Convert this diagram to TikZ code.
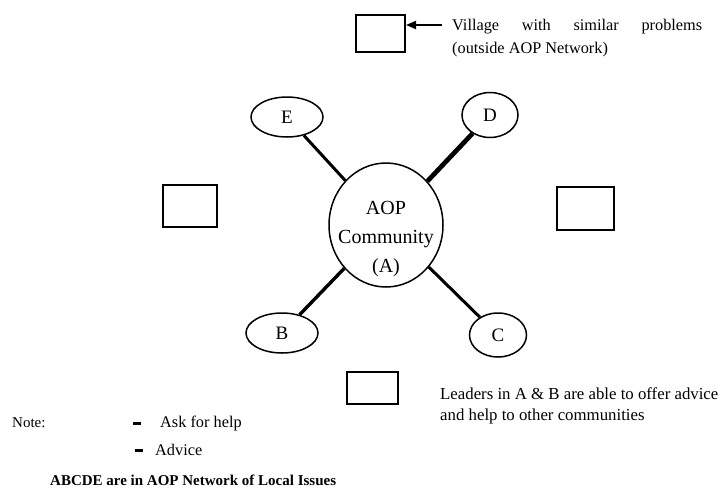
\documentclass[tikz,border=0pt]{standalone}
\usepackage{fontspec}
\setmainfont{Liberation Serif}
\usetikzlibrary{shapes.geometric,arrows.meta}
\tikzset{
  vbox/.style={draw, line width=2pt, rectangle, inner sep=0pt},
  comm/.style={draw, line width=1.5pt, ellipse, inner sep=0pt, font=\fontsize{19}{22}\selectfont},
  link/.style={line width=#1},
  txt/.style={inner sep=0pt, font=\fontsize{16.3}{20}\selectfont},
}
\begin{document}
\begin{tikzpicture}[x=1pt,y=-1pt]
\useasboundingbox[fill=white] (0,0) rectangle (723,496);
% boxes
\node[vbox, minimum width=49pt, minimum height=37pt] (top) at (380.5,33.5) {};
\node[vbox, minimum width=54pt, minimum height=42pt] (left) at (190,206) {};
\node[vbox, minimum width=57pt, minimum height=43pt] (right) at (585.5,208.5) {};
\node[vbox, minimum width=51pt, minimum height=32pt] (bottom) at (372.5,388) {};
% communities
\node[comm, minimum width=114pt, minimum height=124pt] (A) at (386,225) {};
\node[inner sep=0pt, align=center, font=\fontsize{20}{29}\selectfont] (Atext) at (386,239) {AOP\\Community\\(A)};
\node[comm, minimum width=72pt, minimum height=40pt] (E) at (287,117) {E};
\node[comm, minimum width=56pt, minimum height=45pt] (D) at (490,115) {D};
\node[comm, minimum width=72pt, minimum height=40pt] (B) at (282,333) {B};
\node[comm, minimum width=57pt, minimum height=44pt] (C) at (498,335) {C};
% links
\draw[link=3pt] (A) -- (E);
\draw[link=4.7pt] (A) -- (D);
\draw[link=3.4pt] (A) -- (B);
\draw[link=3pt] (A) -- (C);
% arrow to top box
\coordinate (arrs) at (442,25);
\draw[line width=1.8pt, -{Triangle[length=10pt,width=8pt]}] (arrs) -- (arrs -| top.east);
\node[txt, anchor=west, align=left, font=\fontsize{16.3}{23}\selectfont] (village) at (452,38) {\makebox[250pt][s]{Village with similar problems}\\(outside AOP Network)};
% leaders text
\node[txt, anchor=west, align=left, font=\fontsize{16.8}{20.5}\selectfont] (leaders) at (440,406) {Leaders in A \& B are able to offer advice\\and help to other communities};
% note
\node[txt, anchor=west, font=\fontsize{15}{18}\selectfont] (note) at (12,423) {Note:};
\coordinate (d1a) at (133,423);
\coordinate (d1b) at (141,423);
\draw[line width=3pt] (d1a) -- (d1b);
\node[txt, anchor=west] (ask) at (160,423) {Ask for help};
\coordinate (d2a) at (135,450);
\coordinate (d2b) at (143,450);
\draw[line width=3pt] (d2a) -- (d2b);
\node[txt, anchor=west] (advice) at (155,450) {Advice};
\node[txt, anchor=west, font=\bfseries\fontsize{15}{18}\selectfont] (abcde) at (50,480) {ABCDE are in AOP Network of Local Issues};
\end{tikzpicture}
\end{document}
